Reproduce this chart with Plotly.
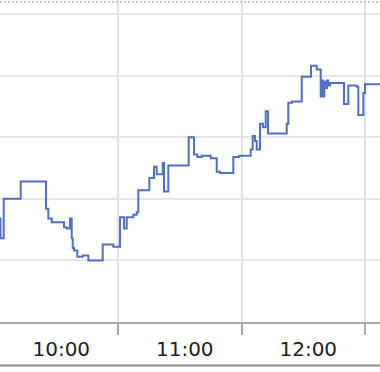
import plotly.graph_objects as go

day = "2024-05-06"

step_times = [
    "10:00:00", "10:02:55", "10:04:28", "10:12:44", "10:25:01", "10:26:08",
    "10:27:47", "10:33:46", "10:35:05", "10:36:41", "10:37:30", "10:38:00",
    "10:38:37", "10:40:14", "10:42:51", "10:45:34", "10:52:34", "10:57:43",
    "11:00:58", "11:02:55", "11:04:14", "11:07:26", "11:09:05", "11:09:52",
    "11:15:13", "11:17:29", "11:18:48", "11:21:43", "11:22:21", "11:24:26",
    "11:34:21", "11:36:55", "11:38:32", "11:40:40", "11:45:02", "11:47:57",
    "11:49:33", "11:56:01", "11:58:56", "12:04:28", "12:05:26", "12:06:34",
    "12:07:23", "12:08:59", "12:10:27", "12:11:46", "12:12:53", "12:21:58",
    "12:22:44", "12:24:32", "12:29:15", "12:33:46", "12:36:32", "12:38:29",
    "12:38:58", "12:39:36", "12:40:14", "12:40:55", "12:41:32", "12:42:10",
    "12:43:00", "12:49:48", "12:51:53", "12:55:58", "12:56:45", "12:59:11",
    "13:00:00", "13:10:00",
]

prices = [
    30.84, 30.68, 31.00, 31.14, 30.92, 30.84,
    30.81, 30.77, 30.76, 30.84, 30.68, 30.60,
    30.58, 30.53, 30.54, 30.50, 30.63, 30.61,
    30.85, 30.76, 30.85, 30.87, 30.89, 31.07,
    31.17, 31.26, 31.20, 31.29, 31.06, 31.27,
    31.50, 31.36, 31.34, 31.35, 31.33, 31.22,
    31.21, 31.34, 31.35, 31.40, 31.51, 31.47,
    31.40, 31.61, 31.58, 31.71, 31.53, 31.61,
    31.78, 31.79, 31.99, 32.08, 32.05, 31.83,
    31.96, 31.83, 31.95, 31.90, 31.96, 31.92,
    31.94, 31.77, 31.92, 31.91, 31.68, 31.86,
    31.93, 31.93,
]

# hour periods: label sits in the middle of each hour's period
period_mid = ["10:30:00", "11:30:00", "12:30:00"]
period_labels = ["10:00", "11:00", "12:00"]

x_range = ["10:02:40", "13:07:17"]
y_ticks = [30.0, 30.5, 31.0, 31.5, 32.0, 32.5]
y_range = [30.0, 32.614]

x = [f"{day} {t}" for t in step_times]

fig = go.Figure()
fig.add_trace(go.Scatter(
    x=x, y=prices, mode="lines",
    line=dict(color="#5470c6", width=2, shape="hv"),
    hoverinfo="skip", showlegend=False,
))

fig.update_layout(
    width=380, height=372,
    margin=dict(l=0, r=0, t=0, b=50, pad=0),
    paper_bgcolor="white", plot_bgcolor="white",
    font=dict(family="DejaVu Sans", color="#222"),
    xaxis=dict(
        type="date",
        range=[f"{day} {x_range[0]}", f"{day} {x_range[1]}"],
        tickvals=[f"{day} {t}" for t in period_mid],
        ticktext=period_labels,
        ticklabelshift=5, ticklabelstandoff=8,
        ticks="", showgrid=False,
        minor=dict(
            tick0=f"{day} 10:00:00", dtick=3600000,
            ticks="outside", ticklen=11, tickwidth=2, tickcolor="#aaaaaa",
            showgrid=True, gridcolor="#e2e2e2", gridwidth=2,
        ),
        showline=True, linecolor="#aaaaaa", linewidth=2,
        zeroline=False, automargin=False,
        tickfont=dict(size=20, color="#222", family="DejaVu Sans"),
    ),
    yaxis=dict(
        range=y_range, tickvals=y_ticks,
        ticktext=[f"{v:.1f}" for v in y_ticks],
        side="right", showline=False, zeroline=False,
        showgrid=True, gridcolor="#e6e6e6", gridwidth=2,
        ticks="", automargin=False, ticklabelstandoff=2, ticklabelshift=-14,
        tickfont=dict(size=20, color="#666", family="DejaVu Sans"),
    ),
    shapes=[
        dict(type="line", xref="paper", yref="paper", x0=0, x1=1,
             y0=1 - 2 / 322, y1=1 - 2 / 322,
             line=dict(color="#c8c8c8", width=2, dash="2px,2px")),
        dict(type="line", xref="paper", yref="paper", x0=0, x1=1,
             y0=-(365.5 - 322) / 322, y1=-(365.5 - 322) / 322,
             line=dict(color="#8c8c8c", width=2)),
    ],
)

fig.write_html("out.html")
